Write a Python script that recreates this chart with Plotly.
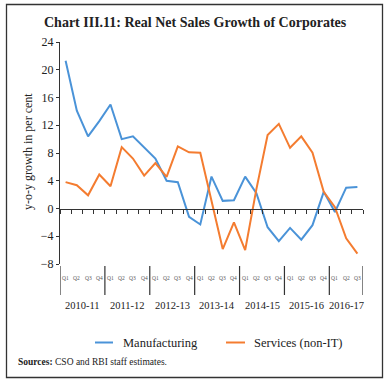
import plotly.graph_objects as go

years = ["2010-11", "2011-12", "2012-13", "2013-14", "2014-15", "2015-16", "2016-17"]
quarters_per_year = [4, 4, 4, 4, 4, 4, 3]
quarter_names = ["Q1", "Q2", "Q3", "Q4"]

manufacturing = [21.3, 14.1, 10.4, 12.6, 15.0, 10.0, 10.4, 8.8, 7.2, 4.0, 3.8, -1.2,
                 -2.3, 4.6, 1.1, 1.2, 4.6, 2.2, -2.7, -4.7, -2.8, -4.5, -2.4, 2.4,
                 -0.5, 3.0, 3.1]
services = [3.8, 3.35, 1.9, 4.9, 3.2, 8.85, 7.2, 4.75, 6.55, 4.55, 8.95, 8.1,
            8.05, 1.0, -5.85, -2.0, -6.0, 2.8, 10.6, 12.2, 8.75, 10.4, 8.05, 2.4,
            0.2, -4.3, -6.5]

y_ticks = [-8, -4, 0, 4, 8, 12, 16, 20, 24]

BLUE = "#4a93d8"
ORANGE = "#f47c30"
SERIF = "Liberation Serif"

W, H = 392, 386
L, R, T, B = 60, 29, 42, 122
PW, PH = W - L - R, H - T - B


def px_x(p):
    return (p - L) / PW


def px_y(p):
    return (H - B - p) / PH


def note(x, y, text, size, xanchor="center", angle=0, xref="paper", color="#222"):
    return dict(x=x, y=y, xref=xref, yref="paper", text=text, showarrow=False,
                xanchor=xanchor, yanchor="middle", textangle=angle,
                font=dict(family=SERIF, size=size, color=color))


xs = list(range(len(manufacturing)))

fig = go.Figure()
fig.add_trace(go.Scatter(x=xs, y=manufacturing, mode="lines", name="Manufacturing",
                         line=dict(color=BLUE, width=2), showlegend=False))
fig.add_trace(go.Scatter(x=xs, y=services, mode="lines", name="Services (non-IT)",
                         line=dict(color=ORANGE, width=2), showlegend=False))

n = len(xs)
boundaries = [i - 0.5 for i in range(n + 1)]

annotations = []
shapes = []

start = 0
for yr, nq in zip(years, quarters_per_year):
    for q in range(nq):
        annotations.append(note(start + q, px_y(278), quarter_names[q], 5.5, xref="x",
                                color="#555"))
    annotations.append(note(start + (nq - 1) / 2, px_y(305), yr, 10.5, xref="x"))
    shapes.append(dict(type="line", xref="x", yref="paper", x0=start - 0.5, x1=start - 0.5,
                       y0=px_y(295), y1=px_y(266), line=dict(color="#333", width=1.2)))
    start += nq
shapes.append(dict(type="line", xref="x", yref="paper", x0=start - 0.5, x1=start - 0.5,
                   y0=px_y(295), y1=px_y(266), line=dict(color="#333", width=1.2)))

shapes.append(dict(type="rect", xref="paper", yref="paper",
                   x0=px_x(6.5), x1=px_x(382.5), y0=px_y(377.5), y1=px_y(4.5),
                   line=dict(color="#333", width=1.3)))

shapes.append(dict(type="line", xref="paper", yref="paper", x0=px_x(95), x1=px_x(113),
                   y0=px_y(342.5), y1=px_y(342.5), line=dict(color=BLUE, width=2)))
shapes.append(dict(type="line", xref="paper", yref="paper", x0=px_x(226), x1=px_x(245),
                   y0=px_y(342.5), y1=px_y(342.5), line=dict(color=ORANGE, width=2)))
annotations.append(note(px_x(121), px_y(342.5), "Manufacturing", 12.5, xanchor="left"))
annotations.append(note(px_x(252), px_y(342.5), "Services (non-IT)", 12.5, xanchor="left"))

annotations.append(note(px_x(195), px_y(22),
                        "<b>Chart III.11: Real Net Sales Growth of Corporates</b>", 14))
annotations.append(note(px_x(28), px_y(152), "y-o-y growth in per cent", 12, angle=-90))
annotations.append(note(px_x(16), px_y(361.5),
                        "<b>Sources:</b> CSO and RBI staff estimates.", 9.5, xanchor="left"))

fig.update_layout(
    width=W, height=H,
    margin=dict(l=L, r=R, t=T, b=B, autoexpand=False),
    paper_bgcolor="white", plot_bgcolor="white",
    hovermode=False,
    xaxis=dict(range=[-0.5, n - 0.5], showgrid=False, zeroline=False,
               anchor="free", position=(0 - (-8)) / (24 - (-8)),
               showline=True, linecolor="#333", linewidth=1.2,
               ticks="outside", tickvals=boundaries, ticklen=4, tickcolor="#333",
               tickwidth=1, showticklabels=False),
    yaxis=dict(range=[-8, 24], tickvals=y_ticks, showgrid=False, zeroline=False,
               showline=True, linecolor="#333", linewidth=1.2,
               ticks="outside", ticklen=3, tickcolor="#333",
               tickfont=dict(family=SERIF, size=12, color="#222")),
    annotations=annotations,
    shapes=shapes,
)

fig.write_html("out.html", config={"displayModeBar": False},
               post_script="document.body.style.margin='0';")
